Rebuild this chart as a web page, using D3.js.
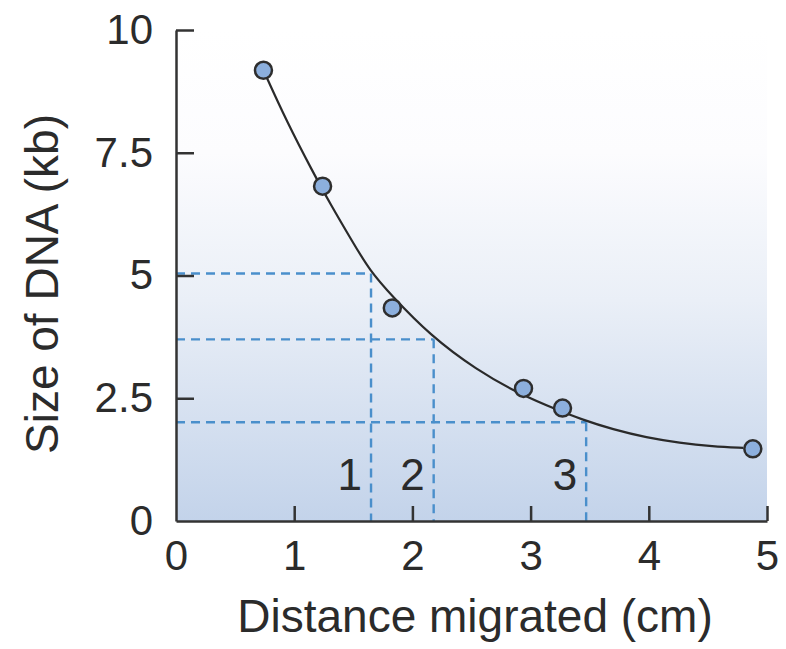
<!DOCTYPE html>
<html>
<head>
<meta charset="utf-8">
<script src="https://cdn.jsdelivr.net/npm/d3@7"></script>
<style>
  body { margin: 0; background: #fff; }
  text { font-family: "Liberation Sans", Arial, sans-serif; fill: #2b2b2b; }
</style>
</head>
<body>
<div id="chart"></div>
<script>
// measured points (distance cm, size kb)
const pointX = [0.74, 1.24, 1.83, 2.94, 3.27, 4.88];
const pointY = [9.18, 6.82, 4.34, 2.70, 2.30, 1.47];

// fitted standard curve
const curveX = [0.74, 0.94, 1.16, 1.30, 1.50, 1.64, 1.82, 2.15, 2.54, 2.91, 3.25, 3.42, 3.70, 3.98, 4.26, 4.54, 4.80];
const curveY = [9.18, 8.12, 7.10, 6.48, 5.66, 5.10, 4.60, 3.78, 3.08, 2.58, 2.24, 2.08, 1.86, 1.70, 1.59, 1.52, 1.49];

// unknown bands
const bandLabels = ["1", "2", "3"];
const bandX = [1.65, 2.18, 3.47];
const bandY = [5.04, 3.70, 2.01];

const xTicks = [0, 1, 2, 3, 4, 5];
const yTicks = [0, 2.5, 5, 7.5, 10];

const width = 786, height = 649;
const svg = d3.select("#chart").append("svg")
    .attr("width", width)
    .attr("height", height);

const x = d3.scaleLinear().domain([0, 5]).range([176, 767]);
const y = d3.scaleLinear().domain([0, 10]).range([521, 30]);

// background gradient
const grad = svg.append("defs").append("linearGradient")
    .attr("id", "bg")
    .attr("x1", 0).attr("y1", 0).attr("x2", 0).attr("y2", 1);
grad.append("stop").attr("offset", "0%").attr("stop-color", "#ffffff");
grad.append("stop").attr("offset", "25%").attr("stop-color", "#fcfcfe");
grad.append("stop").attr("offset", "55%").attr("stop-color", "#eaeff7");
grad.append("stop").attr("offset", "100%").attr("stop-color", "#c3d3ea");

svg.append("rect")
    .attr("x", x(0))
    .attr("y", y(10))
    .attr("width", x(5) - x(0))
    .attr("height", y(0) - y(10))
    .attr("fill", "url(#bg)");

// dashed guide lines
const dash = svg.append("g")
    .attr("stroke", "#4a8fcb")
    .attr("stroke-width", 2.4)
    .attr("stroke-dasharray", "9,6")
    .attr("fill", "none");

bandX.forEach((bx, i) => {
    dash.append("line")
        .attr("x1", x(0)).attr("x2", x(bx))
        .attr("y1", y(bandY[i])).attr("y2", y(bandY[i]));
    dash.append("line")
        .attr("x1", x(bx)).attr("x2", x(bx))
        .attr("y1", y(bandY[i])).attr("y2", y(0));
});

// band numbers
svg.selectAll("text.band")
    .data(bandLabels)
    .enter().append("text")
    .attr("class", "band")
    .attr("x", (d, i) => x(bandX[i]) - 9)
    .attr("y", y(0.63))
    .attr("text-anchor", "end")
    .attr("font-size", 44)
    .text(d => d);

// axes
const axisColor = "#333";

const yAxis = svg.append("g")
    .attr("transform", `translate(${x(0)},0)`)
    .call(d3.axisLeft(y).tickValues(yTicks).tickSizeInner(-18).tickSizeOuter(0)
        .tickPadding(23).tickFormat(d => d));

const xAxis = svg.append("g")
    .attr("transform", `translate(0,${y(0)})`)
    .call(d3.axisBottom(x).tickValues(xTicks).tickSizeInner(-15).tickSizeOuter(0)
        .tickPadding(19).tickFormat(d => d));

[xAxis, yAxis].forEach(ax => {
    ax.select(".domain").attr("stroke", axisColor).attr("stroke-width", 2.5);
    ax.selectAll(".tick line").attr("stroke", axisColor).attr("stroke-width", 2.5);
    ax.selectAll(".tick text")
        .attr("font-size", 42)
        .attr("font-family", "Liberation Sans, Arial, sans-serif")
        .attr("fill", "#2b2b2b");
});

// hide the 0 ticks on the corner
xAxis.selectAll(".tick line").filter(d => d === 0).remove();
yAxis.selectAll(".tick line").filter(d => d === 0).remove();

// standard curve
const line = d3.line()
    .x((d, i) => x(curveX[i]))
    .y((d, i) => y(curveY[i]))
    .curve(d3.curveBasis);

svg.append("path")
    .datum(curveX)
    .attr("d", line)
    .attr("fill", "none")
    .attr("stroke", "#2a2a2a")
    .attr("stroke-width", 2.2);

// points
svg.selectAll("circle.pt")
    .data(pointX)
    .enter().append("circle")
    .attr("class", "pt")
    .attr("cx", d => x(d))
    .attr("cy", (d, i) => y(pointY[i]))
    .attr("r", 8.5)
    .attr("fill", "#8cafdd")
    .attr("stroke", "#2e2e2e")
    .attr("stroke-width", 2.5);

// axis titles
svg.append("text")
    .attr("x", 475)
    .attr("y", 632)
    .attr("text-anchor", "middle")
    .attr("font-size", 46)
    .text("Distance migrated (cm)");

svg.append("text")
    .attr("transform", `translate(58,284) rotate(-90)`)
    .attr("text-anchor", "middle")
    .attr("font-size", 46)
    .text("Size of DNA (kb)");
</script>
</body>
</html>
